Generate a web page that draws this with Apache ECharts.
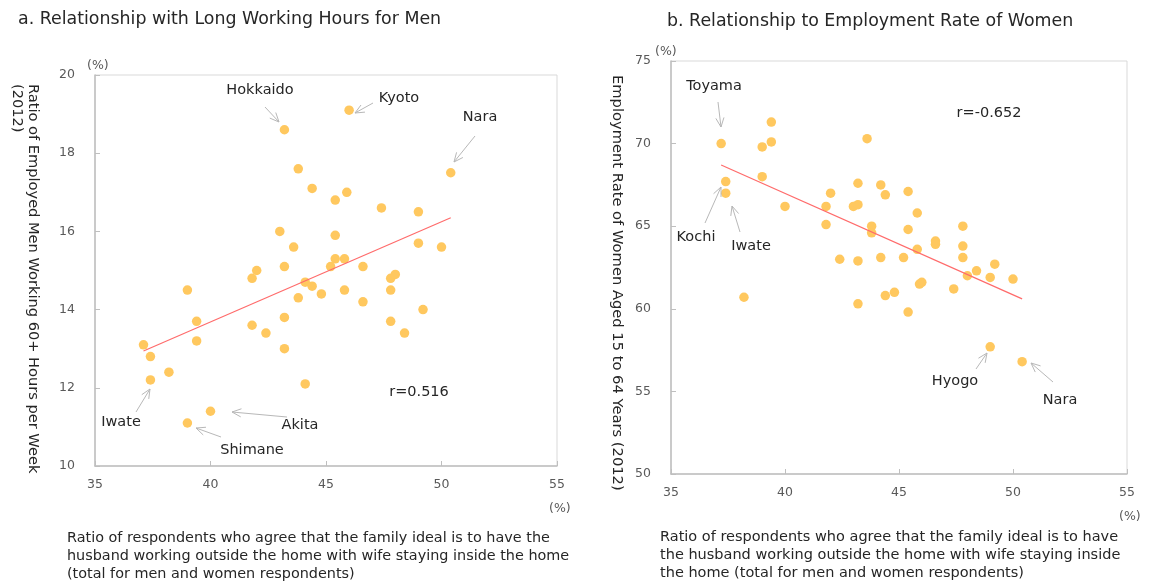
<!DOCTYPE html>
<html>
<head>
<meta charset="utf-8">
<script src="https://cdn.jsdelivr.net/npm/echarts@6/dist/echarts.min.js"></script>
<style>
  html, body { margin: 0; padding: 0; background: #fff; }
  #chart { width: 1150px; height: 583px; }
</style>
</head>
<body>
<div id="chart"></div>
<script>
// a. men: ideal-family ratio (x) vs men working 60+ hours (y)
const menX = [43.2, 46.0, 50.4, 43.8, 44.4, 45.4, 45.9, 47.4, 49.0, 43.0, 43.6, 45.4, 49.0, 50.0, 45.4, 45.8,
  39.0, 42.0, 41.8, 43.2, 43.8, 44.1, 44.4, 44.8, 45.2, 46.6, 45.8, 46.6, 47.8, 48.0, 47.8, 47.8,
  49.2, 48.4, 39.4, 39.4, 37.1, 37.4, 38.2, 37.4, 40.0, 39.0, 41.8, 42.4, 43.2, 43.2, 44.1];
const menY = [18.6, 19.1, 17.5, 17.6, 17.1, 16.8, 17.0, 16.6, 16.5, 16.0, 15.6, 15.9, 15.7, 15.6, 15.3, 15.3,
  14.5, 15.0, 14.8, 15.1, 14.3, 14.7, 14.6, 14.4, 15.1, 15.1, 14.5, 14.2, 14.8, 14.9, 14.5, 13.7,
  14.0, 13.4, 13.7, 13.2, 13.1, 12.8, 12.4, 12.2, 11.4, 11.1, 13.6, 13.4, 13.8, 13.0, 12.1];
const menTrend = [[37.1, 12.94], [50.4, 16.35]];

// b. women: ideal-family ratio (x) vs employment rate of women 15-64 (y)
const womenX = [37.2, 37.4, 37.4, 39.4, 39.4, 39.0, 39.0, 40.0, 43.6, 42.0, 41.8, 41.8, 43.2, 43.0, 43.2, 44.2,
  44.4, 43.8, 43.8, 42.4, 43.2, 44.2, 45.4, 45.8, 45.4, 46.6, 46.6, 47.8, 47.8, 47.8, 45.8, 45.2,
  48.4, 49.2, 48.0, 49.0, 50.0, 45.9, 46.0, 47.4, 44.8, 44.4, 45.4, 49.0, 50.4, 38.2, 43.2];
const womenY = [70.0, 67.7, 67.0, 71.3, 70.1, 69.8, 68.0, 66.2, 70.3, 67.0, 66.2, 65.1, 67.6, 66.2, 66.3, 67.5,
  66.9, 65.0, 64.6, 63.0, 62.9, 63.1, 67.1, 65.8, 64.8, 64.1, 63.9, 65.0, 63.8, 63.1, 63.6, 63.1,
  62.3, 62.7, 62.0, 61.9, 61.8, 61.5, 61.6, 61.2, 61.0, 60.8, 59.8, 57.7, 56.8, 60.7, 60.3];
const womenTrend = [[37.2, 68.7], [50.4, 60.6]];

const xTicks = [35, 40, 45, 50, 55];
const menYTicks = [10, 12, 14, 16, 18, 20];
const womenYTicks = [50, 55, 60, 65, 70, 75];

const FONT = '"DejaVu Sans", sans-serif';
const DOT = '#FFC85F';
const ARROW = '#b8b8b8';

const chart = echarts.init(document.getElementById('chart'));

function zip(xs, ys) {
  return xs.map((x, i) => [x, ys[i]]);
}

function axisX(gridIndex) {
  return {
    type: 'value', gridIndex: gridIndex,
    min: xTicks[0], max: xTicks[xTicks.length - 1], interval: 5,
    axisLine: { show: true, lineStyle: { color: '#bfbfbf', width: 1.5 } },
    axisTick: { show: true, inside: true, length: 5, lineStyle: { color: '#bfbfbf' } },
    axisLabel: { color: '#595959', fontSize: 12.5, fontFamily: FONT, margin: 12 },
    splitLine: { show: false }
  };
}

function axisY(gridIndex, ticks) {
  return {
    type: 'value', gridIndex: gridIndex,
    min: ticks[0], max: ticks[ticks.length - 1], interval: ticks[1] - ticks[0],
    axisLine: { show: true, lineStyle: { color: '#bfbfbf', width: 1.5 } },
    axisTick: { show: true, inside: true, length: 5, lineStyle: { color: '#bfbfbf' } },
    axisLabel: { color: '#595959', fontSize: 12.5, fontFamily: FONT, margin: 20 },
    splitLine: { show: false }
  };
}

// small helper for the grey callout arrows (open head)
function arrow(x1, y1, x2, y2) {
  const a = Math.atan2(y2 - y1, x2 - x1);
  const L = 10, s = 0.42;
  return [
    { type: 'polyline', z: 10, shape: { points: [[x1, y1], [x2, y2]] },
      style: { stroke: ARROW, lineWidth: 1, fill: null } },
    { type: 'polyline', z: 10,
      shape: { points: [
        [x2 - L * Math.cos(a - s), y2 - L * Math.sin(a - s)],
        [x2, y2],
        [x2 - L * Math.cos(a + s), y2 - L * Math.sin(a + s)]
      ] },
      style: { stroke: ARROW, lineWidth: 1, fill: null } }
  ];
}

function txt(x, y, s, size) {
  return {
    type: 'text', x: x, y: y, z: 10,
    style: { text: s, font: size + 'px ' + FONT, fill: '#262626', align: 'center', verticalAlign: 'middle' }
  };
}

function leftTxt(x, y, s, size, color) {
  return { type: 'text', x: x, y: y, z: 10,
    style: { text: s, font: size + 'px ' + FONT, fill: color || '#262626', align: 'left', verticalAlign: 'middle' } };
}

const graphics = [
  // titles
  leftTxt(18, 19, 'a. Relationship with Long Working Hours for Men', 17.4),
  leftTxt(667, 21, 'b. Relationship to Employment Rate of Women', 17.4),

  // unit labels
  leftTxt(87, 66, '(%)', 12.5, '#595959'),
  leftTxt(655, 52, '(%)', 12.5, '#595959'),
  leftTxt(549, 509, '(%)', 12.5, '#595959'),
  leftTxt(1119, 517, '(%)', 12.5, '#595959'),

  // y axis titles (rotated, read top to bottom)
  { type: 'text', x: 41, y: 84, rotation: -Math.PI / 2, z: 10,
    style: { text: 'Ratio of Employed Men Working 60+ Hours per Week\n(2012)', font: '14.6px ' + FONT,
      fill: '#262626', align: 'left', verticalAlign: 'top', lineHeight: 16 } },
  { type: 'text', x: 625, y: 75, rotation: -Math.PI / 2, z: 10,
    style: { text: 'Employment Rate of Women Aged 15 to 64 Years (2012)', font: '14.7px ' + FONT,
      fill: '#262626', align: 'left', verticalAlign: 'top', lineHeight: 16 } },

  // x axis titles
  { type: 'text', x: 67, y: 529, z: 10,
    style: { text: 'Ratio of respondents who agree that the family ideal is to have the\n' +
      'husband working outside the home with wife staying inside the home\n' +
      '(total for men and women respondents)', font: '14.4px ' + FONT,
      fill: '#262626', align: 'left', verticalAlign: 'top', lineHeight: 18 } },
  { type: 'text', x: 660, y: 528, z: 10,
    style: { text: 'Ratio of respondents who agree that the family ideal is to have\n' +
      'the husband working outside the home with wife staying inside\n' +
      'the home (total for men and women respondents)', font: '14.5px ' + FONT,
      fill: '#262626', align: 'left', verticalAlign: 'top', lineHeight: 18 } },

  // left chart callouts
  txt(260, 90, 'Hokkaido', 14.5),
  txt(399, 98, 'Kyoto', 14.5),
  txt(480, 117, 'Nara', 14.5),
  txt(121, 422, 'Iwate', 14.5),
  txt(300, 425, 'Akita', 14.5),
  txt(252, 450, 'Shimane', 14.5),
  txt(419, 392, 'r=0.516', 14.5),

  // right chart callouts
  txt(714, 86, 'Toyama', 14.5),
  txt(696, 237, 'Kochi', 14.5),
  txt(751, 246, 'Iwate', 14.5),
  txt(989, 113, 'r=-0.652', 14.5),
  txt(955, 381, 'Hyogo', 14.5),
  txt(1060, 400, 'Nara', 14.5)
].concat(
  arrow(265, 107, 279, 122),
  arrow(373, 103, 355, 113),
  arrow(475, 136, 454, 162),
  arrow(136, 412, 150, 389),
  arrow(287, 417, 232, 412),
  arrow(221, 437, 196, 428),
  arrow(718, 102, 721, 127),
  arrow(705, 223, 721, 187),
  arrow(740, 232, 732, 206),
  arrow(976, 369, 987, 353),
  arrow(1053, 382, 1031, 363)
);

const option = {
  animation: false,
  backgroundColor: '#fff',
  textStyle: { fontFamily: FONT },
  grid: [
    { left: 95, top: 75, width: 462, height: 391, show: true, borderColor: '#d9d9d9', borderWidth: 1 },
    { left: 671, top: 61, width: 456, height: 413, show: true, borderColor: '#d9d9d9', borderWidth: 1 }
  ],
  xAxis: [axisX(0), axisX(1)],
  yAxis: [axisY(0, menYTicks), axisY(1, womenYTicks)],
  series: [
    {
      type: 'scatter', xAxisIndex: 0, yAxisIndex: 0,
      data: zip(menX, menY), symbolSize: 9.5,
      itemStyle: { color: DOT, opacity: 1 }
    },
    {
      type: 'line', xAxisIndex: 0, yAxisIndex: 0,
      data: menTrend, symbol: 'none',
      lineStyle: { color: '#FF6B6B', width: 1.2 }
    },
    {
      type: 'scatter', xAxisIndex: 1, yAxisIndex: 1,
      data: zip(womenX, womenY), symbolSize: 9.5,
      itemStyle: { color: DOT, opacity: 1 }
    },
    {
      type: 'line', xAxisIndex: 1, yAxisIndex: 1,
      data: womenTrend, symbol: 'none',
      lineStyle: { color: '#FF6B6B', width: 1.2 }
    }
  ],
  graphic: graphics
};

chart.setOption(option);
</script>
</body>
</html>
